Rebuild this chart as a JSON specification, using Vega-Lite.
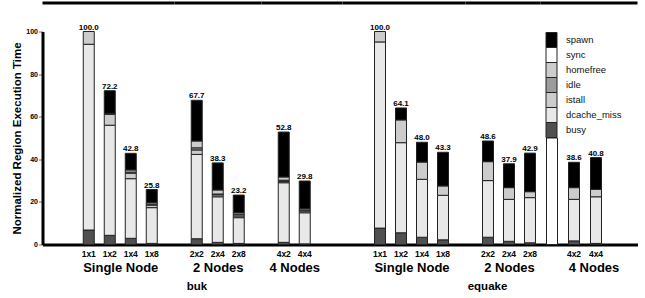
{
  "$schema": "https://vega.github.io/schema/vega-lite/v6.json",
  "padding": {"left": 11.5, "top": 0.5, "right": 0, "bottom": 0},
  "datasets": {
    "rows": [
      {"bench":"buk","grp":"Single Node","cfg":"1x1","cat":"busy","v":6.8},
      {"bench":"buk","grp":"Single Node","cfg":"1x1","cat":"dcache_miss","v":87.2},
      {"bench":"buk","grp":"Single Node","cfg":"1x1","cat":"istall","v":6.0},
      {"bench":"buk","grp":"Single Node","cfg":"1x2","cat":"busy","v":4.3},
      {"bench":"buk","grp":"Single Node","cfg":"1x2","cat":"dcache_miss","v":51.7},
      {"bench":"buk","grp":"Single Node","cfg":"1x2","cat":"istall","v":5.1},
      {"bench":"buk","grp":"Single Node","cfg":"1x2","cat":"idle","v":0.5},
      {"bench":"buk","grp":"Single Node","cfg":"1x2","cat":"spawn","v":10.6},
      {"bench":"buk","grp":"Single Node","cfg":"1x4","cat":"busy","v":2.9},
      {"bench":"buk","grp":"Single Node","cfg":"1x4","cat":"dcache_miss","v":28.0},
      {"bench":"buk","grp":"Single Node","cfg":"1x4","cat":"istall","v":2.6},
      {"bench":"buk","grp":"Single Node","cfg":"1x4","cat":"idle","v":0.5},
      {"bench":"buk","grp":"Single Node","cfg":"1x4","cat":"homefree","v":1.0},
      {"bench":"buk","grp":"Single Node","cfg":"1x4","cat":"spawn","v":7.8},
      {"bench":"buk","grp":"Single Node","cfg":"1x8","cat":"busy","v":0.5},
      {"bench":"buk","grp":"Single Node","cfg":"1x8","cat":"dcache_miss","v":16.8},
      {"bench":"buk","grp":"Single Node","cfg":"1x8","cat":"istall","v":1.2},
      {"bench":"buk","grp":"Single Node","cfg":"1x8","cat":"idle","v":0.4},
      {"bench":"buk","grp":"Single Node","cfg":"1x8","cat":"homefree","v":0.7},
      {"bench":"buk","grp":"Single Node","cfg":"1x8","cat":"spawn","v":6.2},
      {"bench":"buk","grp":"2 Nodes","cfg":"2x2","cat":"busy","v":2.7},
      {"bench":"buk","grp":"2 Nodes","cfg":"2x2","cat":"dcache_miss","v":39.6},
      {"bench":"buk","grp":"2 Nodes","cfg":"2x2","cat":"istall","v":2.1},
      {"bench":"buk","grp":"2 Nodes","cfg":"2x2","cat":"idle","v":1.0},
      {"bench":"buk","grp":"2 Nodes","cfg":"2x2","cat":"homefree","v":3.2},
      {"bench":"buk","grp":"2 Nodes","cfg":"2x2","cat":"spawn","v":19.1},
      {"bench":"buk","grp":"2 Nodes","cfg":"2x4","cat":"busy","v":1.0},
      {"bench":"buk","grp":"2 Nodes","cfg":"2x4","cat":"dcache_miss","v":21.4},
      {"bench":"buk","grp":"2 Nodes","cfg":"2x4","cat":"istall","v":0.9},
      {"bench":"buk","grp":"2 Nodes","cfg":"2x4","cat":"idle","v":0.4},
      {"bench":"buk","grp":"2 Nodes","cfg":"2x4","cat":"homefree","v":1.9},
      {"bench":"buk","grp":"2 Nodes","cfg":"2x4","cat":"spawn","v":12.7},
      {"bench":"buk","grp":"2 Nodes","cfg":"2x8","cat":"busy","v":0.5},
      {"bench":"buk","grp":"2 Nodes","cfg":"2x8","cat":"dcache_miss","v":12.1},
      {"bench":"buk","grp":"2 Nodes","cfg":"2x8","cat":"istall","v":0.8},
      {"bench":"buk","grp":"2 Nodes","cfg":"2x8","cat":"idle","v":0.8},
      {"bench":"buk","grp":"2 Nodes","cfg":"2x8","cat":"homefree","v":0.7},
      {"bench":"buk","grp":"2 Nodes","cfg":"2x8","cat":"spawn","v":8.3},
      {"bench":"buk","grp":"4 Nodes","cfg":"4x2","cat":"busy","v":1.0},
      {"bench":"buk","grp":"4 Nodes","cfg":"4x2","cat":"dcache_miss","v":28.0},
      {"bench":"buk","grp":"4 Nodes","cfg":"4x2","cat":"istall","v":0.6},
      {"bench":"buk","grp":"4 Nodes","cfg":"4x2","cat":"idle","v":0.6},
      {"bench":"buk","grp":"4 Nodes","cfg":"4x2","cat":"homefree","v":1.5},
      {"bench":"buk","grp":"4 Nodes","cfg":"4x2","cat":"spawn","v":21.1},
      {"bench":"buk","grp":"4 Nodes","cfg":"4x4","cat":"busy","v":0.3},
      {"bench":"buk","grp":"4 Nodes","cfg":"4x4","cat":"dcache_miss","v":14.6},
      {"bench":"buk","grp":"4 Nodes","cfg":"4x4","cat":"istall","v":0.8},
      {"bench":"buk","grp":"4 Nodes","cfg":"4x4","cat":"idle","v":0.5},
      {"bench":"buk","grp":"4 Nodes","cfg":"4x4","cat":"homefree","v":0.6},
      {"bench":"buk","grp":"4 Nodes","cfg":"4x4","cat":"spawn","v":13.0},
      {"bench":"equake","grp":"Single Node","cfg":"1x1","cat":"busy","v":7.7},
      {"bench":"equake","grp":"Single Node","cfg":"1x1","cat":"dcache_miss","v":87.4},
      {"bench":"equake","grp":"Single Node","cfg":"1x1","cat":"istall","v":4.9},
      {"bench":"equake","grp":"Single Node","cfg":"1x2","cat":"busy","v":5.5},
      {"bench":"equake","grp":"Single Node","cfg":"1x2","cat":"dcache_miss","v":42.3},
      {"bench":"equake","grp":"Single Node","cfg":"1x2","cat":"istall","v":10.7},
      {"bench":"equake","grp":"Single Node","cfg":"1x2","cat":"spawn","v":5.6},
      {"bench":"equake","grp":"Single Node","cfg":"1x4","cat":"busy","v":3.4},
      {"bench":"equake","grp":"Single Node","cfg":"1x4","cat":"dcache_miss","v":27.2},
      {"bench":"equake","grp":"Single Node","cfg":"1x4","cat":"istall","v":8.1},
      {"bench":"equake","grp":"Single Node","cfg":"1x4","cat":"spawn","v":9.3},
      {"bench":"equake","grp":"Single Node","cfg":"1x8","cat":"busy","v":2.2},
      {"bench":"equake","grp":"Single Node","cfg":"1x8","cat":"dcache_miss","v":20.9},
      {"bench":"equake","grp":"Single Node","cfg":"1x8","cat":"istall","v":4.4},
      {"bench":"equake","grp":"Single Node","cfg":"1x8","cat":"spawn","v":15.8},
      {"bench":"equake","grp":"2 Nodes","cfg":"2x2","cat":"busy","v":3.4},
      {"bench":"equake","grp":"2 Nodes","cfg":"2x2","cat":"dcache_miss","v":26.6},
      {"bench":"equake","grp":"2 Nodes","cfg":"2x2","cat":"istall","v":8.9},
      {"bench":"equake","grp":"2 Nodes","cfg":"2x2","cat":"spawn","v":9.7},
      {"bench":"equake","grp":"2 Nodes","cfg":"2x4","cat":"busy","v":1.5},
      {"bench":"equake","grp":"2 Nodes","cfg":"2x4","cat":"dcache_miss","v":19.7},
      {"bench":"equake","grp":"2 Nodes","cfg":"2x4","cat":"istall","v":5.5},
      {"bench":"equake","grp":"2 Nodes","cfg":"2x4","cat":"spawn","v":11.2},
      {"bench":"equake","grp":"2 Nodes","cfg":"2x8","cat":"busy","v":0.8},
      {"bench":"equake","grp":"2 Nodes","cfg":"2x8","cat":"dcache_miss","v":21.2},
      {"bench":"equake","grp":"2 Nodes","cfg":"2x8","cat":"istall","v":2.8},
      {"bench":"equake","grp":"2 Nodes","cfg":"2x8","cat":"spawn","v":18.1},
      {"bench":"equake","grp":"4 Nodes","cfg":"4x2","cat":"busy","v":1.7},
      {"bench":"equake","grp":"4 Nodes","cfg":"4x2","cat":"dcache_miss","v":19.5},
      {"bench":"equake","grp":"4 Nodes","cfg":"4x2","cat":"istall","v":5.5},
      {"bench":"equake","grp":"4 Nodes","cfg":"4x2","cat":"spawn","v":11.9},
      {"bench":"equake","grp":"4 Nodes","cfg":"4x4","cat":"busy","v":0.5},
      {"bench":"equake","grp":"4 Nodes","cfg":"4x4","cat":"dcache_miss","v":21.9},
      {"bench":"equake","grp":"4 Nodes","cfg":"4x4","cat":"istall","v":3.5},
      {"bench":"equake","grp":"4 Nodes","cfg":"4x4","cat":"spawn","v":14.9}
    ]
  },
  "data": {"name": "rows"},
  "bounds": "flush",
  "spacing": 0,
  "hconcat": [
    {
      "width": 132, "height": 213,
      "layer": [
        {
          "transform": [
            {"filter": "datum.bench == 'buk' && datum.grp == 'Single Node'"},
            {"calculate": "indexof(['busy','dcache_miss','istall','idle','homefree','sync','spawn'], datum.cat)", "as": "ord"}
          ],
          "mark": {"type": "bar", "stroke": "#222", "strokeWidth": 1},
          "encoding": {
            "x": {"field": "cfg", "type": "nominal", "scale": {"domain": ["_a","1x1","1x2","1x4","1x8"], "paddingInner": 0.47619, "paddingOuter": 0.881, "align": 0.534}, "axis": {"title": "Single Node", "titleX": 77.75, "labelExpr": "indexof(datum.value, '_') == 0 ? '' : datum.value"}},
            "y": {"field": "v", "type": "quantitative", "stack": "zero", "scale": {"domain": [0, 100]}, "axis": {"title": "Normalized Region Execution Time", "values": [0, 20, 40, 60, 80, 100]}},
            "color": {"field": "cat", "type": "nominal", "scale": {"domain": ["spawn","sync","homefree","idle","istall","dcache_miss","busy"], "range": ["#000000","#ffffff","#cccccc","#9c9c9c","#cccccc","#e8e8e8","#505050"]}, "legend": {"orient": "none", "legendX": 503.5, "legendY": 3, "title": null, "symbolType": "M-1.1,-1.5H1.1V1.5H-1.1Z", "symbolSize": 100, "symbolStrokeColor": "#222", "symbolStrokeWidth": 1, "symbolOpacity": 1, "rowPadding": -4, "labelFontSize": 9.5, "labelOffset": 9, "labelColor": "#111"}},
            "order": {"field": "ord", "type": "quantitative", "sort": "ascending"}
          }
        },
        {
          "transform": [
            {"filter": "datum.bench == 'buk' && datum.grp == 'Single Node'"},
            {"aggregate": [{"op": "sum", "field": "v", "as": "total"}], "groupby": ["cfg"]}
          ],
          "mark": {"type": "text", "fontSize": 8, "fontWeight": "bold", "baseline": "alphabetic", "dy": -2, "color": "#000"},
          "encoding": {
            "x": {"field": "cfg", "type": "nominal"},
            "y": {"field": "total", "type": "quantitative"},
            "text": {"field": "total", "type": "quantitative", "format": ".1f"}
          }
        },
        {
          "transform": [{"filter": "datum.bench == 'buk' && datum.cfg == '1x1' && datum.cat == 'busy'"}],
          "mark": {"type": "rule", "strokeWidth": 3, "color": "#000"},
          "encoding": {"y": {"datum": 113.4}}
        }
      ]
    },
    {
      "width": 87, "height": 213,
      "title": {"text": "buk", "orient": "bottom", "dx": -21},
      "layer": [
        {
          "transform": [
            {"filter": "datum.bench == 'buk' && datum.grp == '2 Nodes'"},
            {"calculate": "indexof(['busy','dcache_miss','istall','idle','homefree','sync','spawn'], datum.cat)", "as": "ord"}
          ],
          "mark": {"type": "bar", "stroke": "#222", "strokeWidth": 1},
          "encoding": {
            "x": {"field": "cfg", "type": "nominal", "scale": {"domain": ["2x2","2x4","2x8"], "paddingInner": 0.47619, "paddingOuter": 0.8095, "align": 0.4926}, "axis": {"title": "2 Nodes", "titleX": 43.25}},
            "y": {"field": "v", "type": "quantitative", "stack": "zero", "scale": {"domain": [0, 100]}, "axis": null},
            "color": {"field": "cat", "type": "nominal"},
            "order": {"field": "ord", "type": "quantitative", "sort": "ascending"}
          }
        },
        {
          "transform": [
            {"filter": "datum.bench == 'buk' && datum.grp == '2 Nodes'"},
            {"aggregate": [{"op": "sum", "field": "v", "as": "total"}], "groupby": ["cfg"]}
          ],
          "mark": {"type": "text", "fontSize": 8, "fontWeight": "bold", "baseline": "alphabetic", "dy": -2, "color": "#000"},
          "encoding": {
            "x": {"field": "cfg", "type": "nominal"},
            "y": {"field": "total", "type": "quantitative", "axis": null},
            "text": {"field": "total", "type": "quantitative", "format": ".1f"}
          }
        },
        {
          "transform": [{"filter": "datum.bench == 'buk' && datum.cfg == '1x1' && datum.cat == 'busy'"}],
          "mark": {"type": "rule", "strokeWidth": 3, "color": "#000"},
          "encoding": {"y": {"datum": 113.4, "axis": null}}
        }
      ]
    },
    {
      "width": 81, "height": 213,
      "layer": [
        {
          "transform": [
            {"filter": "datum.bench == 'buk' && datum.grp == '4 Nodes'"},
            {"calculate": "indexof(['busy','dcache_miss','istall','idle','homefree','sync','spawn'], datum.cat)", "as": "ord"}
          ],
          "mark": {"type": "bar", "stroke": "#222", "strokeWidth": 1},
          "encoding": {
            "x": {"field": "cfg", "type": "nominal", "scale": {"domain": ["4x2","4x4","_c"], "paddingInner": 0.47619, "paddingOuter": 0.6667, "align": 0.598}, "axis": {"title": "4 Nodes", "titleX": 32.75, "labelExpr": "indexof(datum.value, '_') == 0 ? '' : datum.value"}},
            "y": {"field": "v", "type": "quantitative", "stack": "zero", "scale": {"domain": [0, 100]}, "axis": null},
            "color": {"field": "cat", "type": "nominal"},
            "order": {"field": "ord", "type": "quantitative", "sort": "ascending"}
          }
        },
        {
          "transform": [
            {"filter": "datum.bench == 'buk' && datum.grp == '4 Nodes'"},
            {"aggregate": [{"op": "sum", "field": "v", "as": "total"}], "groupby": ["cfg"]}
          ],
          "mark": {"type": "text", "fontSize": 8, "fontWeight": "bold", "baseline": "alphabetic", "dy": -2, "color": "#000"},
          "encoding": {
            "x": {"field": "cfg", "type": "nominal"},
            "y": {"field": "total", "type": "quantitative", "axis": null},
            "text": {"field": "total", "type": "quantitative", "format": ".1f"}
          }
        },
        {
          "transform": [{"filter": "datum.bench == 'buk' && datum.cfg == '1x1' && datum.cat == 'busy'"}],
          "mark": {"type": "rule", "strokeWidth": 3, "color": "#000"},
          "encoding": {"y": {"datum": 113.4, "axis": null}}
        }
      ]
    },
    {
      "width": 123, "height": 213,
      "layer": [
        {
          "transform": [
            {"filter": "datum.bench == 'equake' && datum.grp == 'Single Node'"},
            {"calculate": "indexof(['busy','dcache_miss','istall','idle','homefree','sync','spawn'], datum.cat)", "as": "ord"}
          ],
          "mark": {"type": "bar", "stroke": "#222", "strokeWidth": 1},
          "encoding": {
            "x": {"field": "cfg", "type": "nominal", "scale": {"domain": ["_d","1x1","1x2","1x4","1x8"], "paddingInner": 0.47619, "paddingOuter": 0.6667, "align": 0.3929}, "axis": {"title": "Single Node", "titleX": 69, "labelExpr": "indexof(datum.value, '_') == 0 ? '' : datum.value"}},
            "y": {"field": "v", "type": "quantitative", "stack": "zero", "scale": {"domain": [0, 100]}, "axis": null},
            "color": {"field": "cat", "type": "nominal"},
            "order": {"field": "ord", "type": "quantitative", "sort": "ascending"}
          }
        },
        {
          "transform": [
            {"filter": "datum.bench == 'equake' && datum.grp == 'Single Node'"},
            {"aggregate": [{"op": "sum", "field": "v", "as": "total"}], "groupby": ["cfg"]}
          ],
          "mark": {"type": "text", "fontSize": 8, "fontWeight": "bold", "baseline": "alphabetic", "dy": -2, "color": "#000"},
          "encoding": {
            "x": {"field": "cfg", "type": "nominal"},
            "y": {"field": "total", "type": "quantitative", "axis": null},
            "text": {"field": "total", "type": "quantitative", "format": ".1f"}
          }
        },
        {
          "transform": [{"filter": "datum.bench == 'buk' && datum.cfg == '1x1' && datum.cat == 'busy'"}],
          "mark": {"type": "rule", "strokeWidth": 3, "color": "#000"},
          "encoding": {"y": {"datum": 113.4, "axis": null}}
        }
      ]
    },
    {
      "width": 75, "height": 213,
      "title": {"text": "equake", "orient": "bottom", "dx": -15.5},
      "layer": [
        {
          "transform": [
            {"filter": "datum.bench == 'equake' && datum.grp == '2 Nodes'"},
            {"calculate": "indexof(['busy','dcache_miss','istall','idle','homefree','sync','spawn'], datum.cat)", "as": "ord"}
          ],
          "mark": {"type": "bar", "stroke": "#222", "strokeWidth": 1},
          "encoding": {
            "x": {"field": "cfg", "type": "nominal", "scale": {"domain": ["2x2","2x4","2x8"], "paddingInner": 0.47619, "paddingOuter": 0.5238, "align": 0.7727}, "axis": {"title": "2 Nodes", "titleX": 43.5}},
            "y": {"field": "v", "type": "quantitative", "stack": "zero", "scale": {"domain": [0, 100]}, "axis": null},
            "color": {"field": "cat", "type": "nominal"},
            "order": {"field": "ord", "type": "quantitative", "sort": "ascending"}
          }
        },
        {
          "transform": [
            {"filter": "datum.bench == 'equake' && datum.grp == '2 Nodes'"},
            {"aggregate": [{"op": "sum", "field": "v", "as": "total"}], "groupby": ["cfg"]}
          ],
          "mark": {"type": "text", "fontSize": 8, "fontWeight": "bold", "baseline": "alphabetic", "dy": -2, "color": "#000"},
          "encoding": {
            "x": {"field": "cfg", "type": "nominal"},
            "y": {"field": "total", "type": "quantitative", "axis": null},
            "text": {"field": "total", "type": "quantitative", "format": ".1f"}
          }
        },
        {
          "transform": [{"filter": "datum.bench == 'buk' && datum.cfg == '1x1' && datum.cat == 'busy'"}],
          "mark": {"type": "rule", "strokeWidth": 3, "color": "#000"},
          "encoding": {"y": {"datum": 113.4, "axis": null}}
        }
      ]
    },
    {
      "width": 97, "height": 213,
      "layer": [
        {
          "transform": [{"filter": "datum.bench == 'buk' && datum.cfg == '1x1' && datum.cat == 'busy'"}],
          "mark": {"type": "bar", "fill": "#ffffff", "stroke": "#222", "strokeWidth": 1},
          "encoding": {
            "x": {"datum": "_key"},
            "y": {"datum": 0, "axis": null},
            "y2": {"datum": 50}
          }
        },
        {
          "transform": [
            {"filter": "datum.bench == 'equake' && datum.grp == '4 Nodes'"},
            {"calculate": "indexof(['busy','dcache_miss','istall','idle','homefree','sync','spawn'], datum.cat)", "as": "ord"}
          ],
          "mark": {"type": "bar", "stroke": "#222", "strokeWidth": 1},
          "encoding": {
            "x": {"field": "cfg", "type": "nominal", "scale": {"domain": ["_key","4x2","4x4"], "paddingInner": 0.5, "paddingOuter": 0.9545, "align": 0.1429}, "axis": {"title": "4 Nodes", "titleX": 53, "labelExpr": "indexof(datum.value, '_') == 0 ? '' : datum.value"}},
            "y": {"field": "v", "type": "quantitative", "stack": "zero", "scale": {"domain": [0, 100]}, "axis": null},
            "color": {"field": "cat", "type": "nominal"},
            "order": {"field": "ord", "type": "quantitative", "sort": "ascending"}
          }
        },
        {
          "transform": [
            {"filter": "datum.bench == 'equake' && datum.grp == '4 Nodes'"},
            {"aggregate": [{"op": "sum", "field": "v", "as": "total"}], "groupby": ["cfg"]}
          ],
          "mark": {"type": "text", "fontSize": 8, "fontWeight": "bold", "baseline": "alphabetic", "dy": -2, "color": "#000"},
          "encoding": {
            "x": {"field": "cfg", "type": "nominal"},
            "y": {"field": "total", "type": "quantitative", "axis": null},
            "text": {"field": "total", "type": "quantitative", "format": ".1f"}
          }
        },
        {
          "transform": [{"filter": "datum.bench == 'buk' && datum.cfg == '1x1' && datum.cat == 'busy'"}],
          "mark": {"type": "rule", "strokeWidth": 3, "color": "#000"},
          "encoding": {"y": {"datum": 113.4, "axis": null}}
        }
      ]
    }
  ],
  "config": {
    "font": "Liberation Sans",
    "view": {"stroke": null},
    "axisX": {"domainWidth": 3, "domainColor": "#000", "ticks": false, "labelFontSize": 8.5, "labelFontWeight": "bold", "labelPadding": 5, "labelAngle": 0, "labelColor": "#000", "titleFontSize": 13, "titleFontWeight": "bold", "titlePadding": 3, "titleColor": "#000", "grid": false},
    "axisY": {"domainWidth": 3, "domainColor": "#000", "tickSize": 4, "tickColor": "#777", "tickWidth": 1, "labelFontSize": 7, "labelFontWeight": "bold", "labelPadding": 1, "labelColor": "#000", "titleFontSize": 11.5, "titleFontWeight": "bold", "titlePadding": 3, "titleColor": "#000", "grid": false},
    "title": {"fontSize": 11.5, "fontWeight": "bold", "color": "#000", "offset": 7}
  }
}
